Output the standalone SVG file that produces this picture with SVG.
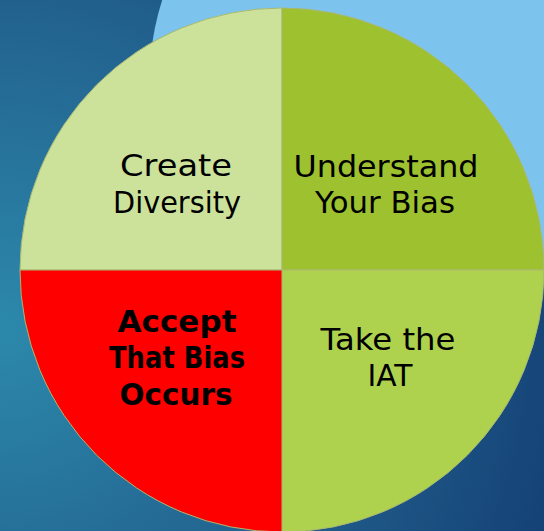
<svg xmlns="http://www.w3.org/2000/svg" width="544" height="531" viewBox="0 0 544 531">
  <defs>
    <radialGradient id="bg" cx="0" cy="330" r="640" gradientUnits="userSpaceOnUse">
      <stop offset="0" stop-color="#2c89ab"/>
      <stop offset="0.5" stop-color="#22628f"/>
      <stop offset="1" stop-color="#123a70"/>
    </radialGradient>
  </defs>
  <style>
    .wedge { stroke: #a9b873; stroke-width: 1; }
    .lbl { font-family: "DejaVu Sans", "Liberation Sans", sans-serif; font-size: 31px; fill: #000; text-anchor: middle; }
    .bold { font-weight: bold; }
  </style>
  <rect id="background" x="0" y="0" width="544" height="531" fill="url(#bg)"/>
  <circle id="accent" cx="399" cy="77" r="249" fill="#7cc4ee"/>
  <g id="connectors"></g>
  <g id="create-diversity">
    <path class="wedge" d="M282,270 L20,270 A262,262 0 0 1 282,8 Z" fill="#cce29b"/>
    <text class="lbl" x="176" y="176" textLength="112" lengthAdjust="spacingAndGlyphs">Create</text>
    <text class="lbl" x="177" y="213" textLength="128" lengthAdjust="spacingAndGlyphs">Diversity</text>
  </g>
  <g id="understand-your-bias">
    <path class="wedge" d="M282,270 L282,8 A262,262 0 0 1 544,270 Z" fill="#9dc12f"/>
    <text class="lbl" x="386" y="177" textLength="185" lengthAdjust="spacingAndGlyphs">Understand</text>
    <text class="lbl" x="385" y="213" textLength="140" lengthAdjust="spacingAndGlyphs">Your Bias</text>
  </g>
  <g id="take-the-iat">
    <path class="wedge" d="M282,270 L544,270 A262,262 0 0 1 282,532 Z" fill="#aed24d"/>
    <text class="lbl" x="388" y="350" textLength="135" lengthAdjust="spacingAndGlyphs">Take the</text>
    <text class="lbl" x="390" y="386" textLength="45" lengthAdjust="spacingAndGlyphs">IAT</text>
  </g>
  <g id="accept-that-bias-occurs">
    <path class="wedge" d="M282,270 L282,532 A262,262 0 0 1 20,270 Z" fill="#ff0000"/>
    <text class="lbl bold" x="177" y="332" textLength="119" lengthAdjust="spacingAndGlyphs">Accept</text>
    <text class="lbl bold" x="177" y="368" textLength="136" lengthAdjust="spacingAndGlyphs">That Bias</text>
    <text class="lbl bold" x="176" y="405" textLength="113" lengthAdjust="spacingAndGlyphs">Occurs</text>
  </g>
</svg>
